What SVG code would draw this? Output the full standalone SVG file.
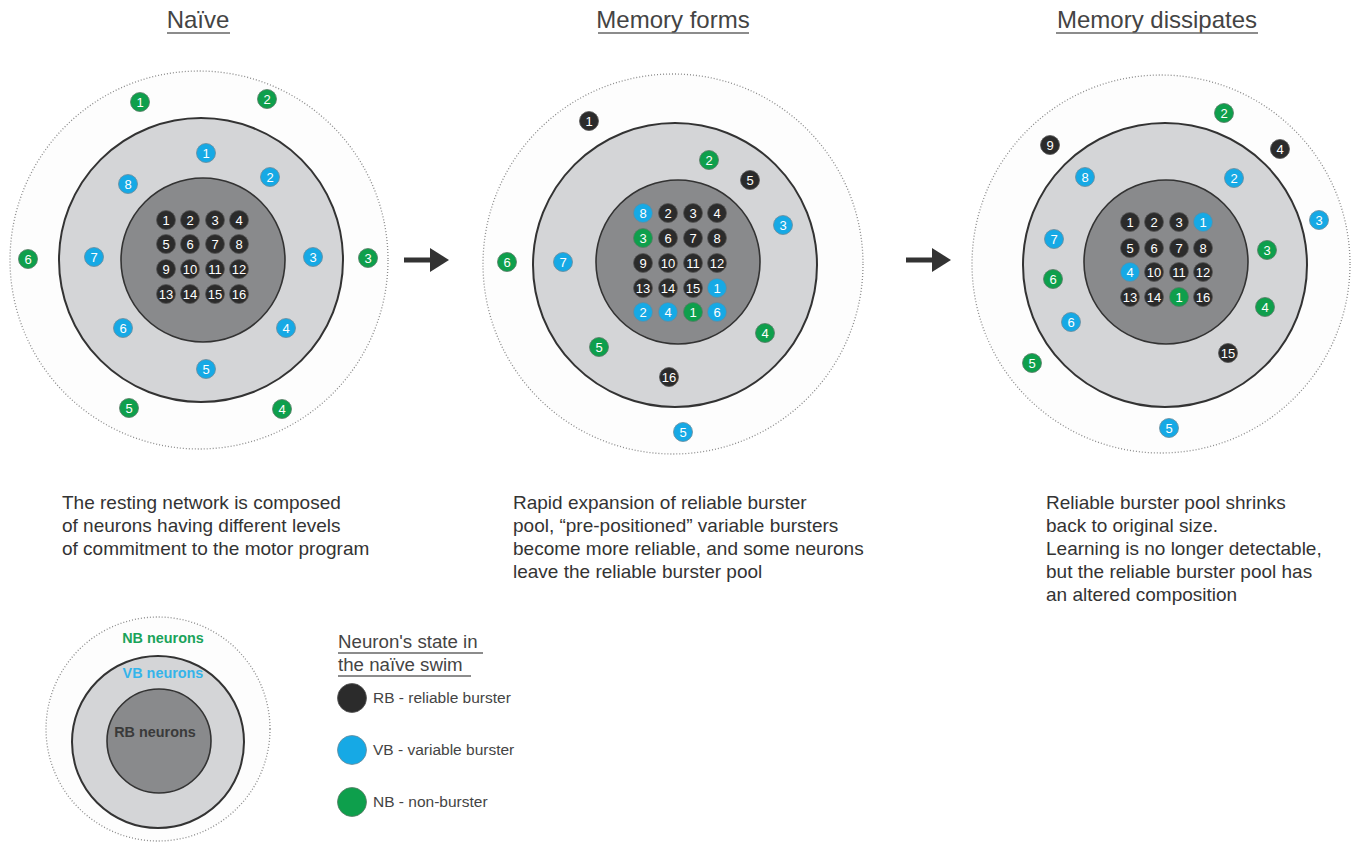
<svg xmlns="http://www.w3.org/2000/svg" width="1360" height="848" viewBox="0 0 1360 848">
<defs>
<style>
text{font-family:"Liberation Sans",Arial,sans-serif}
.title{font-size:24px;fill:#444}
.body{font-size:19px;fill:#333}
.outer{fill:#fdfdfd;stroke:#8a8a8a;stroke-width:1.3;stroke-dasharray:1 2}
.mid{fill:#d4d5d7;stroke:#333;stroke-width:2}
.core{fill:#898a8c;stroke:#333;stroke-width:1.6}
.k{fill:#2b2b2b;stroke:#555;stroke-width:0.8}
.b{fill:#16a9e5;stroke:#6a8a9a;stroke-width:0.8}
.g{fill:#0e9f4c;stroke:#5a7a66;stroke-width:0.8}
.n text{font-size:13px;fill:#fff;text-anchor:middle}
.leg{font-size:15.5px;fill:#444}
.arrow{fill:#333;stroke:none}
</style>
</defs>
<rect width="1360" height="848" fill="#fff"/>

<!-- Titles -->
<g id="titles">
<text class="title" x="198" y="28" text-anchor="middle">Naïve</text>
<line x1="167" y1="33" x2="230" y2="33" stroke="#666" stroke-width="1.4"/>
<text class="title" x="673" y="28" text-anchor="middle">Memory forms</text>
<line x1="598" y1="33" x2="749" y2="33" stroke="#666" stroke-width="1.4"/>
<text class="title" x="1157" y="28" text-anchor="middle">Memory dissipates</text>
<line x1="1056" y1="33" x2="1258" y2="33" stroke="#666" stroke-width="1.4"/>
</g>

<!-- Panel 1: Naive -->
<g id="panel1">
<circle class="outer" cx="199" cy="260" r="189"/>
<circle class="mid" cx="201" cy="260" r="142"/>
<circle class="core" cx="203" cy="260" r="82"/>
<g class="n">
<g id="p1-rb1"><circle class="k" cx="166" cy="220" r="9.5"/><text x="166" y="224.5">1</text></g>
<g id="p1-rb2"><circle class="k" cx="190" cy="220" r="9.5"/><text x="190" y="224.5">2</text></g>
<g id="p1-rb3"><circle class="k" cx="215" cy="220" r="9.5"/><text x="215" y="224.5">3</text></g>
<g id="p1-rb4"><circle class="k" cx="239" cy="220" r="9.5"/><text x="239" y="224.5">4</text></g>
<g id="p1-rb5"><circle class="k" cx="166" cy="244" r="9.5"/><text x="166" y="248.5">5</text></g>
<g id="p1-rb6"><circle class="k" cx="190" cy="244" r="9.5"/><text x="190" y="248.5">6</text></g>
<g id="p1-rb7"><circle class="k" cx="215" cy="244" r="9.5"/><text x="215" y="248.5">7</text></g>
<g id="p1-rb8"><circle class="k" cx="239" cy="244" r="9.5"/><text x="239" y="248.5">8</text></g>
<g id="p1-rb9"><circle class="k" cx="166" cy="269" r="9.5"/><text x="166" y="273.5">9</text></g>
<g id="p1-rb10"><circle class="k" cx="190" cy="269" r="9.5"/><text x="190" y="273.5">10</text></g>
<g id="p1-rb11"><circle class="k" cx="215" cy="269" r="9.5"/><text x="215" y="273.5">11</text></g>
<g id="p1-rb12"><circle class="k" cx="239" cy="269" r="9.5"/><text x="239" y="273.5">12</text></g>
<g id="p1-rb13"><circle class="k" cx="166" cy="294" r="9.5"/><text x="166" y="298.5">13</text></g>
<g id="p1-rb14"><circle class="k" cx="190" cy="294" r="9.5"/><text x="190" y="298.5">14</text></g>
<g id="p1-rb15"><circle class="k" cx="215" cy="294" r="9.5"/><text x="215" y="298.5">15</text></g>
<g id="p1-rb16"><circle class="k" cx="239" cy="294" r="9.5"/><text x="239" y="298.5">16</text></g>
<g id="p1-vb1"><circle class="b" cx="206" cy="153" r="9.5"/><text x="206" y="157.5">1</text></g>
<g id="p1-vb2"><circle class="b" cx="270" cy="177" r="9.5"/><text x="270" y="181.5">2</text></g>
<g id="p1-vb3"><circle class="b" cx="313" cy="257" r="9.5"/><text x="313" y="261.5">3</text></g>
<g id="p1-vb4"><circle class="b" cx="286" cy="328" r="9.5"/><text x="286" y="332.5">4</text></g>
<g id="p1-vb5"><circle class="b" cx="206" cy="369" r="9.5"/><text x="206" y="373.5">5</text></g>
<g id="p1-vb6"><circle class="b" cx="123" cy="328" r="9.5"/><text x="123" y="332.5">6</text></g>
<g id="p1-vb7"><circle class="b" cx="94" cy="257" r="9.5"/><text x="94" y="261.5">7</text></g>
<g id="p1-vb8"><circle class="b" cx="128" cy="184" r="9.5"/><text x="128" y="188.5">8</text></g>
<g id="p1-nb1"><circle class="g" cx="140" cy="102" r="9.5"/><text x="140" y="106.5">1</text></g>
<g id="p1-nb2"><circle class="g" cx="267" cy="99" r="9.5"/><text x="267" y="103.5">2</text></g>
<g id="p1-nb3"><circle class="g" cx="368" cy="258" r="9.5"/><text x="368" y="262.5">3</text></g>
<g id="p1-nb4"><circle class="g" cx="282" cy="409" r="9.5"/><text x="282" y="413.5">4</text></g>
<g id="p1-nb5"><circle class="g" cx="129" cy="408" r="9.5"/><text x="129" y="412.5">5</text></g>
<g id="p1-nb6"><circle class="g" cx="28" cy="259" r="9.5"/><text x="28" y="263.5">6</text></g>
</g>
</g>

<!-- Panel 2: Memory forms -->
<g id="panel2">
<circle class="outer" cx="673" cy="264" r="190"/>
<circle class="mid" cx="675" cy="265" r="142"/>
<circle class="core" cx="678" cy="262" r="82"/>
<g class="n">
<g id="p2-vb8"><circle class="b" cx="643" cy="213" r="9.5"/><text x="643" y="217.5">8</text></g>
<g id="p2-rb2"><circle class="k" cx="668" cy="213" r="9.5"/><text x="668" y="217.5">2</text></g>
<g id="p2-rb3"><circle class="k" cx="693" cy="213" r="9.5"/><text x="693" y="217.5">3</text></g>
<g id="p2-rb4"><circle class="k" cx="717" cy="213" r="9.5"/><text x="717" y="217.5">4</text></g>
<g id="p2-nb3"><circle class="g" cx="643" cy="238" r="9.5"/><text x="643" y="242.5">3</text></g>
<g id="p2-rb6"><circle class="k" cx="668" cy="238" r="9.5"/><text x="668" y="242.5">6</text></g>
<g id="p2-rb7"><circle class="k" cx="693" cy="238" r="9.5"/><text x="693" y="242.5">7</text></g>
<g id="p2-rb8"><circle class="k" cx="717" cy="238" r="9.5"/><text x="717" y="242.5">8</text></g>
<g id="p2-rb9"><circle class="k" cx="643" cy="263" r="9.5"/><text x="643" y="267.5">9</text></g>
<g id="p2-rb10"><circle class="k" cx="668" cy="263" r="9.5"/><text x="668" y="267.5">10</text></g>
<g id="p2-rb11"><circle class="k" cx="693" cy="263" r="9.5"/><text x="693" y="267.5">11</text></g>
<g id="p2-rb12"><circle class="k" cx="717" cy="263" r="9.5"/><text x="717" y="267.5">12</text></g>
<g id="p2-rb13"><circle class="k" cx="643" cy="288" r="9.5"/><text x="643" y="292.5">13</text></g>
<g id="p2-rb14"><circle class="k" cx="668" cy="288" r="9.5"/><text x="668" y="292.5">14</text></g>
<g id="p2-rb15"><circle class="k" cx="693" cy="288" r="9.5"/><text x="693" y="292.5">15</text></g>
<g id="p2-vb1"><circle class="b" cx="717" cy="288" r="9.5"/><text x="717" y="292.5">1</text></g>
<g id="p2-vb2"><circle class="b" cx="643" cy="312" r="9.5"/><text x="643" y="316.5">2</text></g>
<g id="p2-vb4"><circle class="b" cx="668" cy="312" r="9.5"/><text x="668" y="316.5">4</text></g>
<g id="p2-nb1"><circle class="g" cx="693" cy="312" r="9.5"/><text x="693" y="316.5">1</text></g>
<g id="p2-vb6"><circle class="b" cx="717" cy="312" r="9.5"/><text x="717" y="316.5">6</text></g>
<g id="p2-rb1"><circle class="k" cx="589" cy="121" r="9.5"/><text x="589" y="125.5">1</text></g>
<g id="p2-nb2"><circle class="g" cx="709" cy="160" r="9.5"/><text x="709" y="164.5">2</text></g>
<g id="p2-rb5"><circle class="k" cx="750" cy="180" r="9.5"/><text x="750" y="184.5">5</text></g>
<g id="p2-vb3"><circle class="b" cx="783" cy="225" r="9.5"/><text x="783" y="229.5">3</text></g>
<g id="p2-nb6"><circle class="g" cx="507" cy="262" r="9.5"/><text x="507" y="266.5">6</text></g>
<g id="p2-vb7"><circle class="b" cx="563" cy="262" r="9.5"/><text x="563" y="266.5">7</text></g>
<g id="p2-nb5"><circle class="g" cx="599" cy="347" r="9.5"/><text x="599" y="351.5">5</text></g>
<g id="p2-rb16"><circle class="k" cx="669" cy="377" r="9.5"/><text x="669" y="381.5">16</text></g>
<g id="p2-nb4"><circle class="g" cx="765" cy="333" r="9.5"/><text x="765" y="337.5">4</text></g>
<g id="p2-vb5"><circle class="b" cx="683" cy="432" r="9.5"/><text x="683" y="436.5">5</text></g>
</g>
</g>

<!-- Panel 3: Memory dissipates -->
<g id="panel3">
<circle class="outer" cx="1161" cy="264" r="189"/>
<circle class="mid" cx="1165" cy="265" r="142"/>
<circle class="core" cx="1166" cy="262" r="82"/>
<g class="n">
<g id="p3-rb1"><circle class="k" cx="1130" cy="222" r="9.5"/><text x="1130" y="226.5">1</text></g>
<g id="p3-rb2"><circle class="k" cx="1154" cy="222" r="9.5"/><text x="1154" y="226.5">2</text></g>
<g id="p3-rb3"><circle class="k" cx="1179" cy="222" r="9.5"/><text x="1179" y="226.5">3</text></g>
<g id="p3-vb1"><circle class="b" cx="1203" cy="222" r="9.5"/><text x="1203" y="226.5">1</text></g>
<g id="p3-rb5"><circle class="k" cx="1130" cy="248" r="9.5"/><text x="1130" y="252.5">5</text></g>
<g id="p3-rb6"><circle class="k" cx="1154" cy="248" r="9.5"/><text x="1154" y="252.5">6</text></g>
<g id="p3-rb7"><circle class="k" cx="1179" cy="248" r="9.5"/><text x="1179" y="252.5">7</text></g>
<g id="p3-rb8"><circle class="k" cx="1203" cy="248" r="9.5"/><text x="1203" y="252.5">8</text></g>
<g id="p3-vb4"><circle class="b" cx="1130" cy="272" r="9.5"/><text x="1130" y="276.5">4</text></g>
<g id="p3-rb10"><circle class="k" cx="1154" cy="272" r="9.5"/><text x="1154" y="276.5">10</text></g>
<g id="p3-rb11"><circle class="k" cx="1179" cy="272" r="9.5"/><text x="1179" y="276.5">11</text></g>
<g id="p3-rb12"><circle class="k" cx="1203" cy="272" r="9.5"/><text x="1203" y="276.5">12</text></g>
<g id="p3-rb13"><circle class="k" cx="1130" cy="297" r="9.5"/><text x="1130" y="301.5">13</text></g>
<g id="p3-rb14"><circle class="k" cx="1154" cy="297" r="9.5"/><text x="1154" y="301.5">14</text></g>
<g id="p3-nb1"><circle class="g" cx="1179" cy="297" r="9.5"/><text x="1179" y="301.5">1</text></g>
<g id="p3-rb16"><circle class="k" cx="1203" cy="297" r="9.5"/><text x="1203" y="301.5">16</text></g>
<g id="p3-nb2"><circle class="g" cx="1224" cy="113" r="9.5"/><text x="1224" y="117.5">2</text></g>
<g id="p3-rb9"><circle class="k" cx="1050" cy="145" r="9.5"/><text x="1050" y="149.5">9</text></g>
<g id="p3-rb4"><circle class="k" cx="1280" cy="149" r="9.5"/><text x="1280" y="153.5">4</text></g>
<g id="p3-vb8"><circle class="b" cx="1085" cy="177" r="9.5"/><text x="1085" y="181.5">8</text></g>
<g id="p3-vb2"><circle class="b" cx="1234" cy="178" r="9.5"/><text x="1234" y="182.5">2</text></g>
<g id="p3-vb3"><circle class="b" cx="1319" cy="220" r="9.5"/><text x="1319" y="224.5">3</text></g>
<g id="p3-vb7"><circle class="b" cx="1054" cy="239" r="9.5"/><text x="1054" y="243.5">7</text></g>
<g id="p3-nb3"><circle class="g" cx="1267" cy="250" r="9.5"/><text x="1267" y="254.5">3</text></g>
<g id="p3-nb6"><circle class="g" cx="1053" cy="279" r="9.5"/><text x="1053" y="283.5">6</text></g>
<g id="p3-nb4"><circle class="g" cx="1265" cy="307" r="9.5"/><text x="1265" y="311.5">4</text></g>
<g id="p3-vb6"><circle class="b" cx="1071" cy="322" r="9.5"/><text x="1071" y="326.5">6</text></g>
<g id="p3-rb15"><circle class="k" cx="1228" cy="353" r="9.5"/><text x="1228" y="357.5">15</text></g>
<g id="p3-nb5"><circle class="g" cx="1032" cy="363" r="9.5"/><text x="1032" y="367.5">5</text></g>
<g id="p3-vb5"><circle class="b" cx="1169" cy="428" r="9.5"/><text x="1169" y="432.5">5</text></g>
</g>
</g>

<!-- Connectors -->
<g id="connectors">
<g id="arrow1"><rect class="arrow" x="404" y="257.5" width="28" height="5"/><polygon class="arrow" points="430,248 449,260 430,272"/></g>
<g id="arrow2"><rect class="arrow" x="906" y="257.5" width="28" height="5"/><polygon class="arrow" points="932,248 951,260 932,272"/></g>
</g>

<!-- Captions -->
<g id="caption1">
<text class="body" x="62" y="509">The resting network is composed</text>
<text class="body" x="62" y="532">of neurons having different levels</text>
<text class="body" x="62" y="555">of commitment to the motor program</text>
</g>
<g id="caption2">
<text class="body" x="513" y="509">Rapid expansion of reliable burster</text>
<text class="body" x="513" y="532">pool, “pre-positioned” variable bursters</text>
<text class="body" x="513" y="555">become more reliable, and some neurons</text>
<text class="body" x="513" y="578">leave the reliable burster pool</text>
</g>
<g id="caption3">
<text class="body" x="1046" y="509">Reliable burster pool shrinks</text>
<text class="body" x="1046" y="532">back to original size.</text>
<text class="body" x="1046" y="555">Learning is no longer detectable,</text>
<text class="body" x="1046" y="578">but the reliable burster pool has</text>
<text class="body" x="1046" y="601">an altered composition</text>
</g>

<!-- Legend diagram -->
<g id="legend-rings">
<circle class="outer" cx="158" cy="729" r="112"/>
<circle class="mid" cx="158" cy="742" r="86"/>
<circle class="core" cx="159" cy="741" r="52"/>
<text x="163" y="643" text-anchor="middle" font-size="14.4" font-weight="bold" fill="#1aa35a">NB neurons</text>
<text x="163" y="678" text-anchor="middle" font-size="14.4" font-weight="bold" fill="#34b4ea">VB neurons</text>
<text x="155" y="737" text-anchor="middle" font-size="14.4" font-weight="bold" fill="#3a3a3a">RB neurons</text>
</g>

<!-- Legend key -->
<g id="legend-key">
<text x="338" y="648" font-size="18.7" fill="#444">Neuron's state in</text>
<line x1="338" y1="653" x2="483" y2="653" stroke="#666" stroke-width="1.3"/>
<text x="338" y="671" font-size="18.7" fill="#444">the naïve swim</text>
<line x1="338" y1="676" x2="471" y2="676" stroke="#666" stroke-width="1.3"/>
<g id="key-rb"><circle class="k" cx="352" cy="698" r="14.5"/><text class="leg" x="373" y="703">RB - reliable burster</text></g>
<g id="key-vb"><circle class="b" cx="352" cy="750" r="14.5"/><text class="leg" x="373" y="755">VB - variable burster</text></g>
<g id="key-nb"><circle class="g" cx="352" cy="802" r="14.5"/><text class="leg" x="373" y="807">NB - non-burster</text></g>
</g>
</svg>
